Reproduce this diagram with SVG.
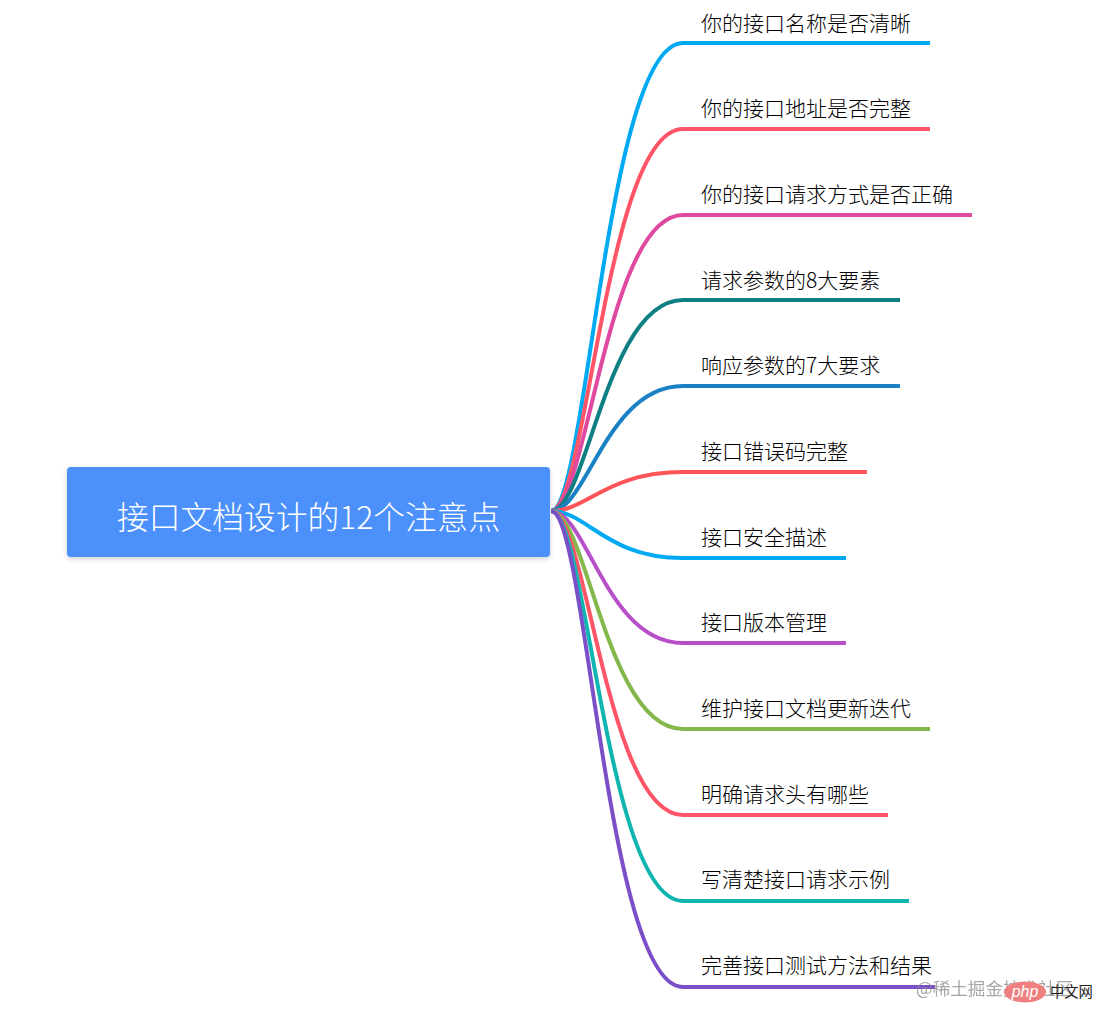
<svg xmlns="http://www.w3.org/2000/svg" width="1103" height="1024" viewBox="0 0 1103 1024">
<defs>
<style>
.l{fill:none;stroke-width:4;stroke-linecap:butt}
.t{font-family:"Noto Sans CJK SC","Liberation Sans",sans-serif;font-size:21px;font-weight:300;fill:#000}
.c{font-family:"Noto Sans CJK SC","Liberation Sans",sans-serif;font-size:31.75px;font-weight:300;fill:#fff}
.w{font-family:"Noto Sans CJK SC","Liberation Sans",sans-serif;font-size:17.6px;fill:#8a8a8a;opacity:.75}
</style>
<filter id="s" x="-5%" y="-20%" width="110%" height="140%"><feDropShadow dx="0" dy="2" stdDeviation="2.5" flood-color="#000" flood-opacity=".18"/></filter>
</defs>
<rect width="1103" height="1024" fill="#fff"/>
<g id="connectors">
<path class="l" stroke="#00aaf2" d="M551 511C587 511 606 43 683 43H930"/>
<path class="l" stroke="#ff5566" d="M551 511C587 511 606 129 683 129H930"/>
<path class="l" stroke="#df4aa0" d="M551 511C587 511 606 215 683 215H972"/>
<path class="l" stroke="#0e7f83" d="M551 511C587 511 606 300 683 300H900"/>
<path class="l" stroke="#1a82c4" d="M551 511C587 511 606 386 683 386H900"/>
<path class="l" stroke="#ff5558" d="M551 511C587 511 606 472 683 472H867"/>
<path class="l" stroke="#00aaf2" d="M551 511C587 511 606 558 683 558H846"/>
<path class="l" stroke="#b64fc8" d="M551 511C587 511 606 643 683 643H846"/>
<path class="l" stroke="#84b84c" d="M551 511C587 511 606 729 683 729H930"/>
<path class="l" stroke="#ff5566" d="M551 511C587 511 606 815 683 815H888"/>
<path class="l" stroke="#10b5b0" d="M551 511C587 511 606 901 683 901H909"/>
<path class="l" stroke="#7a4fc8" d="M551 511C587 511 606 987 683 987H935"/>
</g>
<g id="root">
<rect x="67" y="467" width="483" height="90" rx="4" fill="#4b90fb" filter="url(#s)"/>
<text class="c" x="117" y="529">接口文档设计的12个注意点</text>
</g>
<g id="n1"><text class="t" x="701" y="31">你的接口名称是否清晰</text></g>
<g id="n2"><text class="t" x="701" y="116">你的接口地址是否完整</text></g>
<g id="n3"><text class="t" x="701" y="202">你的接口请求方式是否正确</text></g>
<g id="n4"><text class="t" x="701" y="288">请求参数的8大要素</text></g>
<g id="n5"><text class="t" x="701" y="373">响应参数的7大要求</text></g>
<g id="n6"><text class="t" x="701" y="459">接口错误码完整</text></g>
<g id="n7"><text class="t" x="701" y="545">接口安全描述</text></g>
<g id="n8"><text class="t" x="701" y="630">接口版本管理</text></g>
<g id="n9"><text class="t" x="701" y="716">维护接口文档更新迭代</text></g>
<g id="n10"><text class="t" x="701" y="802">明确请求头有哪些</text></g>
<g id="n11"><text class="t" x="701" y="887">写清楚接口请求示例</text></g>
<g id="n12"><text class="t" x="701" y="973">完善接口测试方法和结果</text></g>
<g id="watermark">
<text class="w" x="916" y="995">@稀土掘金技术社区</text>
<ellipse cx="1025" cy="992" rx="21" ry="10.5" fill="#f08080"/>
<text x="1025" y="997" text-anchor="middle" font-family="'Liberation Sans',sans-serif" font-style="italic" font-size="16" fill="#fff">php</text>
<text x="1050" y="997" font-family="'Noto Sans CJK SC',sans-serif" font-size="14.3" fill="#222">中文网</text>
</g>
</svg>
